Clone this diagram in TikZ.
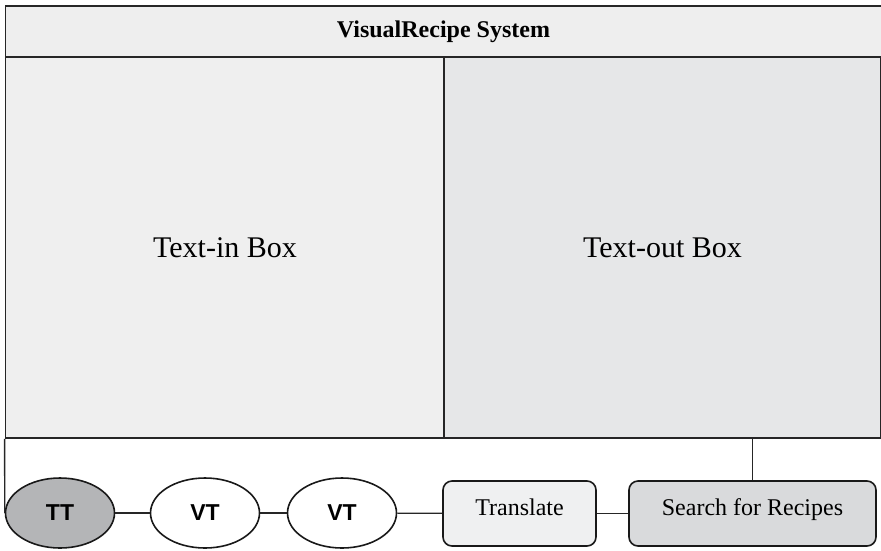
\documentclass[tikz,border=0pt]{standalone}
\usepackage{fontspec}
\setmainfont{Liberation Serif}
\setsansfont{Liberation Sans}
\usetikzlibrary{shapes}
\definecolor{barfill}{HTML}{EEEEEE}
\definecolor{infill}{HTML}{EFEFEF}
\definecolor{outfill}{HTML}{E6E7E8}
\definecolor{ttfill}{HTML}{B4B5B7}
\definecolor{trfill}{HTML}{EFF0F1}
\definecolor{srfill}{HTML}{D9DADC}
\tikzstyle{edge}=[
	-,
	draw=black!85,
	line width=1.3pt
]
\tikzstyle{panel}=[
	rectangle,
	draw=black!85,
	line width=1.8pt,
	inner sep=0pt
]
\tikzstyle{token}=[
	ellipse,
	draw=black!90,
	line width=1.6pt,
	minimum width=109pt,
	minimum height=70pt,
	inner sep=0pt,
	font=\sffamily\bfseries\fontsize{23}{23}\selectfont
]
\tikzstyle{action}=[
	rectangle,
	rounded corners=9pt,
	draw=black!90,
	line width=1.6pt,
	minimum height=65pt,
	inner sep=0pt,
	text height=16pt,
	text depth=13pt,
	font=\fontsize{24}{24}\selectfont
]

\begin{document}
\begin{tikzpicture}[x=1pt,y=-1pt]
\useasboundingbox (0,0) rectangle (881,550);

% system frame
\node[panel, fill=barfill, minimum width=876pt, minimum height=51pt,
      font=\bfseries\fontsize{24}{24}\selectfont] (title) at (443.5,31.5) {VisualRecipe System};
\node[panel, fill=infill, minimum width=439pt, minimum height=381pt,
      font=\fontsize{30}{30}\selectfont] (textin) at (225,247.5) {Text-in Box};
\node[panel, fill=outfill, minimum width=437pt, minimum height=381pt,
      font=\fontsize{30}{30}\selectfont] (textout) at (662.5,247.5) {Text-out Box};

% pipeline
\node[token, fill=ttfill] (tt) at (60,513) {TT};
\node[token, fill=white] (vt1) at (205,513) {VT};
\node[token, fill=white] (vt2) at (342,513) {VT};
\node[action, fill=trfill, minimum width=153pt] (translate) at (519.5,513.5) {Translate};
\node[action, fill=srfill, minimum width=247pt] (search) at (752.5,513.5) {Search for Recipes};

\draw[edge] (tt) to (vt1);
\draw[edge] (vt1) to (vt2);
\draw[edge] (vt2) to (translate);
\draw[edge] (translate) to (search);
\draw[edge] (search.north) to (search.north |- textout.south);
\draw[edge] (textin.south west) to (tt.west);
\end{tikzpicture}
\end{document}
